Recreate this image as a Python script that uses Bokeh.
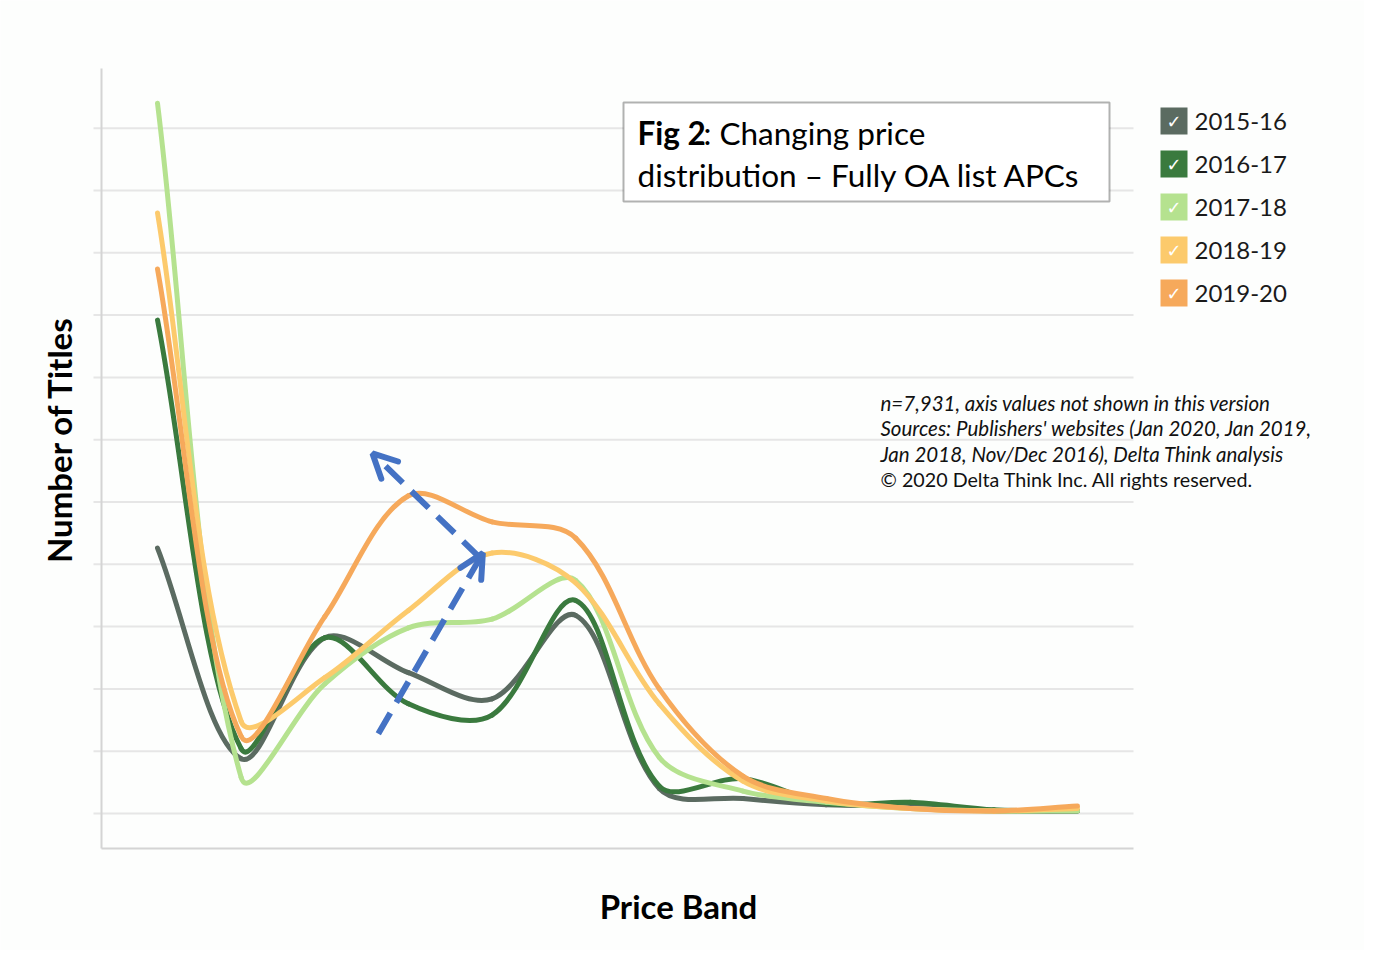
import math
from bokeh.plotting import figure
from bokeh.models import Label, Arrow, OpenHead, BoxAnnotation, Range1d
from bokeh.embed import file_html
from bokeh.resources import INLINE

# ---------------- data ----------------
price_band = list(range(12))          # 12 price bands (axis values not shown)
series_names = ["2015-16", "2016-17", "2017-18", "2018-19", "2019-20"]
s2015_16 = [213, 44, 141, 113, 92, 159, 20, 12, 7, 6, 2, 2]
s2016_17 = [396, 52, 141, 88, 79, 171, 22, 28, 8, 9, 3, 2]
s2017_18 = [570, 29, 104, 149, 156, 187, 45, 18, 9, 4, 2, 2]
s2018_19 = [482, 74, 109, 163, 209, 185, 88, 26, 10, 4, 2, 4]
s2019_20 = [437, 62, 158, 255, 234, 221, 100, 30, 12, 4, 2, 6]
series_values = [s2015_16, s2016_17, s2017_18, s2018_19, s2019_20]
series_colors = ["#5b6b61", "#3a7a3e", "#b5e28f", "#fcca6c", "#f6a95b"]
grid_ticks = [0, 50, 100, 150, 200, 250, 300, 350, 400, 450, 500, 550]
x_title = "Price Band"
y_title = "Number of Titles"

# trend arrows (x in price-band units, y in value units): (x_start, y_start, x_end, y_end)
arrows = [(2.64, 64, 3.89, 209), (3.86, 205, 2.57, 289)]

# ---------------- helpers: canvas pixel -> data (for annotation layout only) ----------------
X0PX, DXPX = 157.0, (1077.0 - 157.0) / 11.0
Y0PX, UPP = 813.0, 50.0 / 62.3


def px2x(px):
    return (px - X0PX) / DXPX


def py2y(py):
    return (Y0PX - py) * UPP


def smooth_segments(xs, ys, f=1.0 / 3.0):
    """Cubic Bezier segments through the points, spreadsheet-style smoothing
    (tangent along neighbours, handle length weighted by on-screen chord lengths)."""
    n = len(xs)
    sx = [x * DXPX for x in xs]
    sy = [y / UPP for y in ys]

    def dist(i, j):
        return math.hypot(sx[j] - sx[i], sy[j] - sy[i])

    out = dict(x0=[], y0=[], x1=[], y1=[], cx0=[], cy0=[], cx1=[], cy1=[])
    for i in range(n - 1):
        a = i - 1 if i > 0 else i
        b = i + 1
        d = i + 2 if i + 2 < n else i + 1
        d_ai, d_ib, d_bd = dist(a, i), dist(i, b), dist(b, d)
        w1 = 1.0 if a == i else d_ib / (d_ai + d_ib)
        w2 = 1.0 if d == b else d_ib / (d_ib + d_bd)
        out["x0"].append(xs[i]); out["y0"].append(ys[i])
        out["x1"].append(xs[b]); out["y1"].append(ys[b])
        out["cx0"].append(xs[i] + (xs[b] - xs[a]) * f * w1)
        out["cy0"].append(ys[i] + (ys[b] - ys[a]) * f * w1)
        out["cx1"].append(xs[b] - (xs[d] - xs[i]) * f * w2)
        out["cy1"].append(ys[b] - (ys[d] - ys[i]) * f * w2)
    return out


FONT = "Lato"
W, H = 1364, 950

p = figure(
    width=W, height=H,
    x_range=Range1d(px2x(0), px2x(W)),
    y_range=Range1d(py2y(H), py2y(0)),
    min_border_left=0, min_border_right=0, min_border_top=0, min_border_bottom=0,
    output_backend="svg", toolbar_location=None,
)
p.background_fill_color = "#fdfefd"
p.border_fill_color = "#ffffff"
p.outline_line_color = None
p.xgrid.grid_line_color = None
p.ygrid.grid_line_color = None
p.xaxis.visible = False
p.yaxis.visible = False

# horizontal gridlines (with the small outer tick stubs) and the axis lines
p.segment(x0=[px2x(93)] * len(grid_ticks), x1=[px2x(1133)] * len(grid_ticks),
          y0=grid_ticks, y1=grid_ticks, line_color="#e6e6e6", line_width=2)
p.segment(x0=[px2x(101)], x1=[px2x(101)], y0=[py2y(68)], y1=[py2y(848)],
          line_color="#d4d4d4", line_width=2)
p.segment(x0=[px2x(101)], x1=[px2x(1133)], y0=[py2y(848)], y1=[py2y(848)],
          line_color="#d4d4d4", line_width=2)

# axis titles
p.add_layout(Label(x=px2x(678), y=py2y(905), text=x_title, text_font=FONT, text_font_style="bold",
                   text_font_size="33px", text_color="#000000", text_align="center",
                   text_baseline="middle"))
p.add_layout(Label(x=px2x(58), y=py2y(439), text=y_title, text_font=FONT, text_font_style="bold",
                   text_font_size="33px", text_color="#000000", text_align="center",
                   text_baseline="middle", angle=math.pi / 2))

# smoothed series lines
for name, vals, col in zip(series_names, series_values, series_colors):
    seg = smooth_segments(price_band, vals)
    p.bezier(x0="x0", y0="y0", x1="x1", y1="y1", cx0="cx0", cy0="cy0", cx1="cx1", cy1="cy1",
             source=seg, line_color=col, line_width=5, line_cap="round", line_join="round")

# dashed trend arrows
for (xs, ys, xe, ye) in arrows:
    p.add_layout(Arrow(x_start=xs, y_start=ys, x_end=xe, y_end=ye,
                       line_color="#4472c4", line_width=6, line_dash="24 12",
                       end=OpenHead(size=24, line_color="#4472c4", line_width=6, line_cap="round")))

# title box
p.add_layout(BoxAnnotation(left=px2x(623), right=px2x(1109), top=py2y(102), bottom=py2y(201),
                           fill_color="#ffffff", fill_alpha=1.0, line_color="#000000", line_width=2,
                           level="annotation"))
p.add_layout(Label(x=px2x(637), y=py2y(132), text="Fig 2", text_font=FONT, text_font_style="bold",
                   text_font_size="31.5px", text_color="#000000", text_baseline="middle"))
p.add_layout(Label(x=px2x(703), y=py2y(132), text=": Changing price", text_font=FONT,
                   text_font_size="31.5px", text_color="#000000", text_baseline="middle"))
p.add_layout(Label(x=px2x(637), y=py2y(174), text="distribution \u2013 Fully OA list APCs", text_font=FONT,
                   text_font_size="31.5px", text_color="#000000", text_baseline="middle"))

# legend (swatch + check mark + label)
for k, (name, col) in enumerate(zip(series_names, series_colors)):
    cy = 121 + 43 * k
    p.add_layout(BoxAnnotation(left=px2x(1160), right=px2x(1187), top=py2y(cy - 14), bottom=py2y(cy + 13),
                               fill_color=col, fill_alpha=1.0, line_color=None, level="annotation"))
    p.add_layout(Label(x=px2x(1173.5), y=py2y(cy), text="\u2713", text_font="DejaVu Sans",
                       text_font_size="18px", text_color="#ffffff", text_align="center",
                       text_baseline="middle"))
    p.add_layout(Label(x=px2x(1194), y=py2y(cy), text=name, text_font=FONT, text_font_size="24px",
                       text_color="#1a1a1a", text_baseline="middle"))

# notes
notes = [
    ("n=7,931, axis values not shown in this version", "italic", "20.5px"),
    ("Sources: Publishers' websites (Jan 2020, Jan 2019,", "italic", "20.5px"),
    ("Jan 2018, Nov/Dec 2016), Delta Think analysis", "italic", "20.5px"),
    ("\u00a9 2020 Delta Think Inc. All rights reserved.", "normal", "19.7px"),
]
for k, (txt, style, size) in enumerate(notes):
    p.add_layout(Label(x=px2x(880), y=py2y(402 + 25.7 * k), text=txt, text_font=FONT,
                       text_font_style=style, text_font_size=size, text_color="#111111",
                       text_baseline="middle"))

open("out.html", "w").write(file_html(p, INLINE))
